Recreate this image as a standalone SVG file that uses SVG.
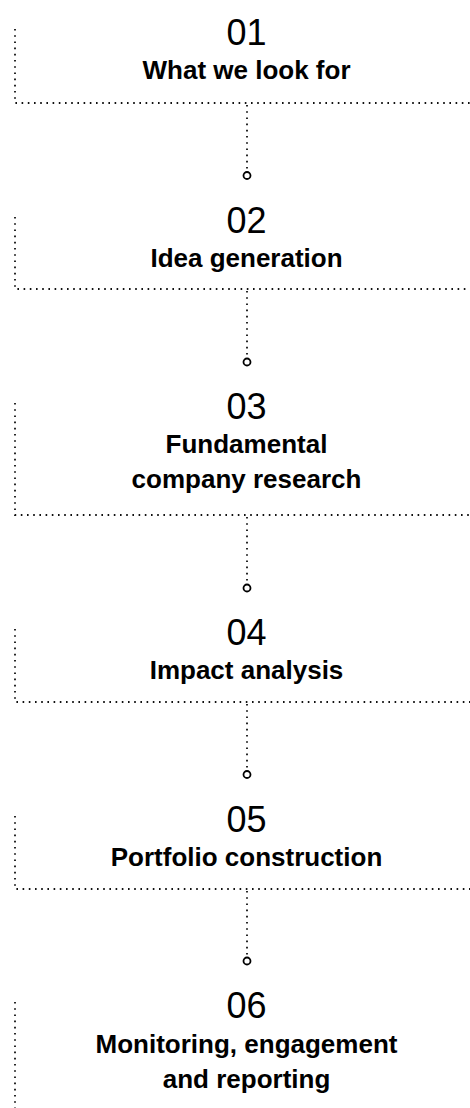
<svg xmlns="http://www.w3.org/2000/svg" width="470" height="1108" viewBox="0 0 470 1108">
  <style>
    .num { font-family: "Liberation Sans", Arial, sans-serif; font-size: 36px; font-weight: 400; fill: #000; text-anchor: middle; }
    .title { font-family: "Liberation Sans", Arial, sans-serif; font-size: 26px; font-weight: 700; fill: #000; text-anchor: middle; }
    .dot { fill: none; stroke: #111; stroke-width: 1.8; stroke-dasharray: 1.6 4.6; }
    .pin { fill: #fff; stroke: #000; stroke-width: 1.8; }
  </style>
  <rect width="470" height="1108" fill="#fff"/>

  <!-- step boxes: dotted left edge and dotted base line -->
  <g id="step-01">
    <path class="dot" d="M15 29 V103 H470"/>
    <text class="num" x="246.5" y="45">01</text>
    <text class="title" x="246.5" y="79">What we look for</text>
  </g>
  <g id="step-02">
    <path class="dot" d="M15 217 V289 H470"/>
    <text class="num" x="246.5" y="233">02</text>
    <text class="title" x="246.5" y="267">Idea generation</text>
  </g>
  <g id="step-03">
    <path class="dot" d="M15 403 V515 H470"/>
    <text class="num" x="246.5" y="419">03</text>
    <text class="title" x="246.5" y="453">Fundamental</text>
    <text class="title" x="246.5" y="488">company research</text>
  </g>
  <g id="step-04">
    <path class="dot" d="M15 629 V702 H470"/>
    <text class="num" x="246.5" y="645">04</text>
    <text class="title" x="246.5" y="679">Impact analysis</text>
  </g>
  <g id="step-05">
    <path class="dot" d="M15 816 V889 H470"/>
    <text class="num" x="246.5" y="832">05</text>
    <text class="title" x="246.5" y="866">Portfolio construction</text>
  </g>
  <g id="step-06">
    <path class="dot" d="M15 1002 V1108"/>
    <text class="num" x="246.5" y="1018">06</text>
    <text class="title" x="246.5" y="1053">Monitoring, engagement</text>
    <text class="title" x="246.5" y="1088">and reporting</text>
  </g>

  <!-- connectors: dotted drop ending in an open circle -->
  <g id="connectors">
    <path class="dot" d="M247 105 V171.5"/>
    <circle class="pin" cx="247" cy="175.5" r="3.5"/>
    <path class="dot" d="M247 291 V358"/>
    <circle class="pin" cx="247" cy="362" r="3.5"/>
    <path class="dot" d="M247 517 V584"/>
    <circle class="pin" cx="247" cy="588" r="3.5"/>
    <path class="dot" d="M247 704 V770.5"/>
    <circle class="pin" cx="247" cy="774.5" r="3.5"/>
    <path class="dot" d="M247 891 V957"/>
    <circle class="pin" cx="247" cy="961" r="3.5"/>
  </g>
</svg>
